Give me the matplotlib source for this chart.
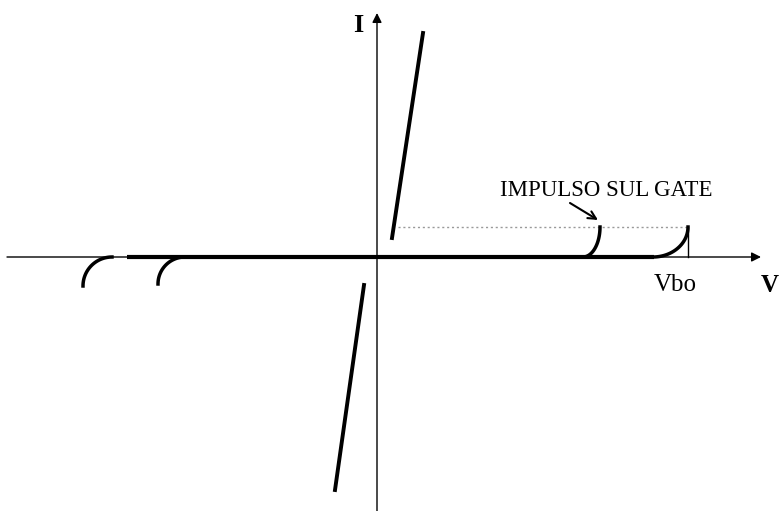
import numpy as np
import matplotlib
matplotlib.use("Agg")
import matplotlib.pyplot as plt

# coordinates in V/I units (origin at axis crossing)
on_state_pos = ([15, 46], [19, 224])          # steep conduction line, first quadrant
on_state_neg = ([-13, -42], [-28, -233])      # steep conduction line, third quadrant
blocking = ([-250, 277], [0, 0])              # thick blocking line along V axis
gate_level = 30                               # dotted gate-pulse level
gate_dots = ([21, 310], [gate_level, gate_level])
gate_arc = (206, 17)                          # start x, width of gate breakover arc
vbo_arc = (276, 35)                           # start x, width of Vbo breakover arc
vbo_x = 311
neg_arcs = [(-265, 29), (-192, 27)]           # left breakdown arcs (end x, width)

fig = plt.figure(figsize=(7.79, 5.11), dpi=100)
ax = fig.add_axes([0, 0, 1, 1])
ax.set_xlim(-377, 402)
ax.set_ylim(-254, 257)
ax.axis("off")

# axes with arrows
ax.annotate("", xy=(384, 0), xytext=(-370, 0),
            arrowprops=dict(arrowstyle="-|>", color="black", lw=1.0,
                            mutation_scale=14, shrinkA=0, shrinkB=0))
ax.annotate("", xy=(0, 244), xytext=(0, -254),
            arrowprops=dict(arrowstyle="-|>", color="black", lw=1.0,
                            mutation_scale=14, shrinkA=0, shrinkB=0))

ax.plot(*blocking, color="black", lw=3.0, solid_capstyle="butt")
ax.plot(*on_state_pos, color="black", lw=2.8)
ax.plot(*on_state_neg, color="black", lw=2.8)
ax.plot(*gate_dots, color="#999999", lw=1.0, ls=(0, (1.5, 2)))

t = np.linspace(0, np.pi / 2, 40)
x0, w = gate_arc
ax.plot(x0 + w * np.sin(t), gate_level - gate_level * np.cos(t), color="black", lw=2.5)
x0, w = vbo_arc
ax.plot(x0 + w * np.sin(t), gate_level - gate_level * np.cos(t), color="black", lw=2.5)
ax.plot([vbo_x, vbo_x], [0, gate_level], color="black", lw=1.0)

for xe, w in neg_arcs:
    ax.plot(xe - w * np.cos(t), -w + w * np.sin(t), color="black", lw=2.5)

# labels
ax.text(-19, 232, "I", fontsize=19, fontweight="bold", family="Liberation Serif",
        ha="center", va="center")
ax.text(393, -28, "V", fontsize=18, fontweight="bold", family="Liberation Serif",
        ha="center", va="center")
ax.text(298, -28, "Vbo", fontsize=18, family="Liberation Serif",
        ha="center", va="center")
ax.text(229, 67, "IMPULSO SUL GATE", fontsize=16.5, family="Liberation Serif",
        ha="center", va="center")
ax.annotate("", xy=(221, 37), xytext=(193, 54),
            arrowprops=dict(arrowstyle="->", color="black", lw=1.5,
                            mutation_scale=14, shrinkA=0, shrinkB=0))

fig.savefig("out.png", dpi=100)
